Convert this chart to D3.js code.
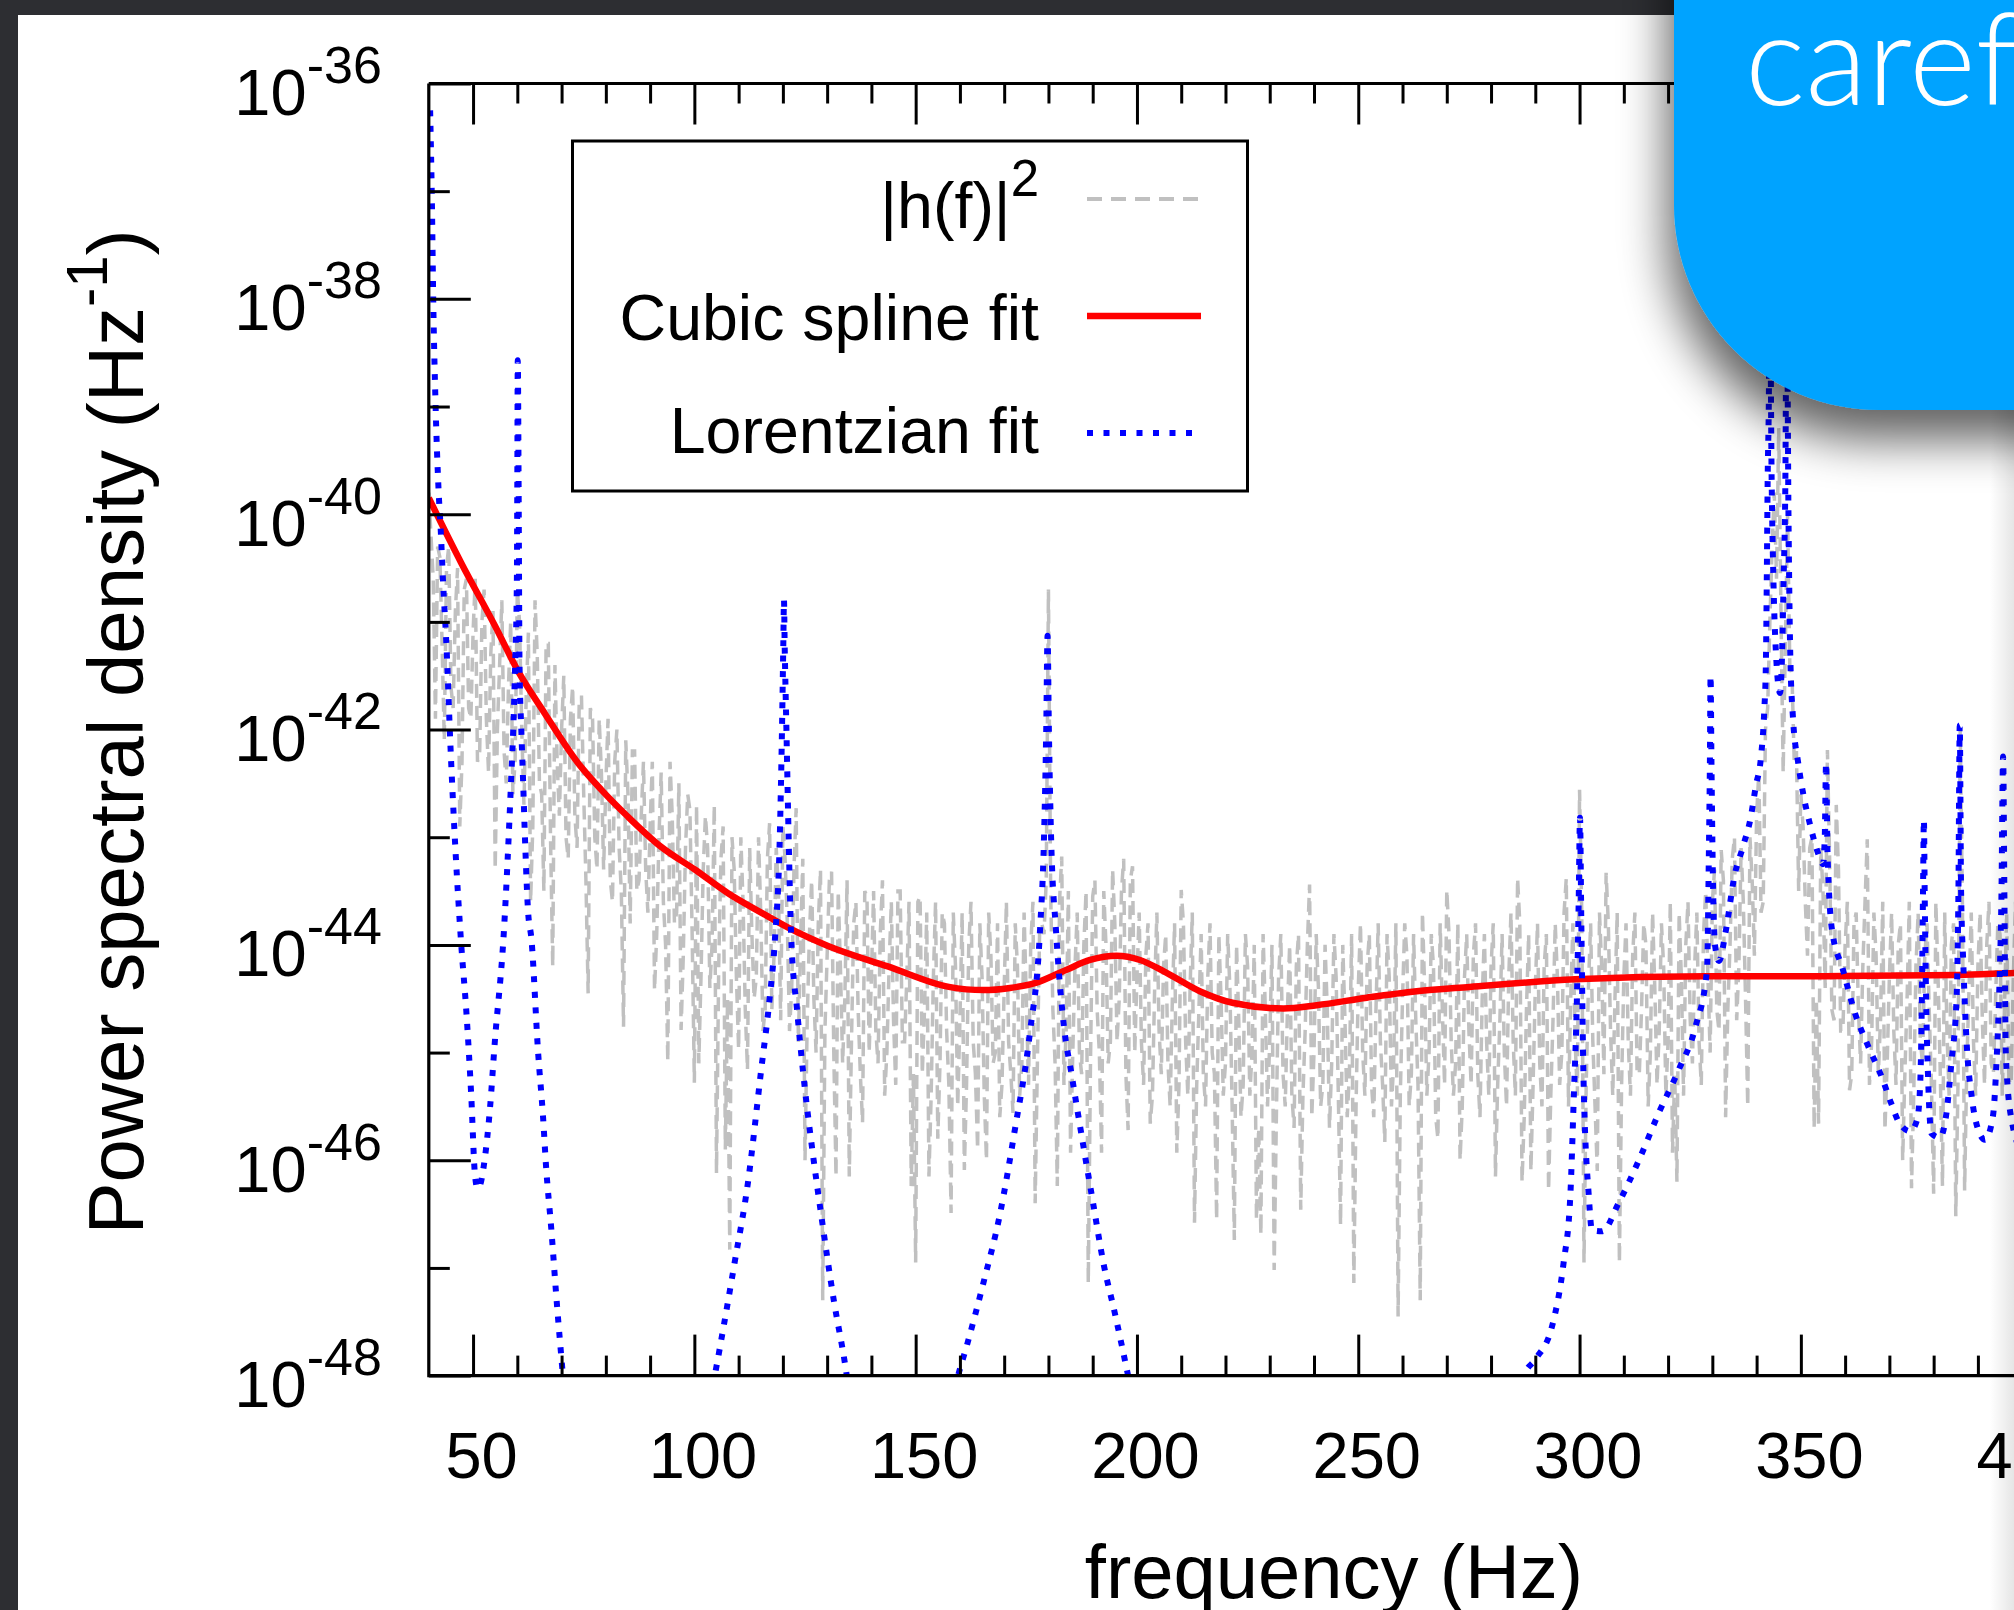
<!DOCTYPE html>
<html>
<head>
<meta charset="utf-8">
<script src="https://cdn.jsdelivr.net/npm/d3@7"></script>
<style>
html, body { margin: 0; padding: 0; background: #2d2e32; overflow: hidden; }
svg { display: block; }
</style>
</head>
<body>
<svg width="2014" height="1610"></svg>
<script>
// |h(f)|^2 samples, log10 of the value, on whole Hz from 40 Hz
var psdStart = 40;
var psdLog = [
  -39.8,-40.6,-40.3,-41.2,-40.5,-41.6,-40.9,-42.9,-40.7,-41.8,
  -41.1,-42.3,-41.0,-41.9,-41.3,-43.3,-41.4,-42.2,-41.6,-42.6,
  -40.7,-42.0,-41.7,-43.6,-40.8,-42.5,-43.5,-41.2,-44.2,-42.3,
  -42.0,-43.0,-41.9,-42.8,-41.7,-42.6,-44.45,-41.9,-43.3,-42.4,
  -42.5,-43.4,-42.3,-43.1,-44.76,-42.6,-42.2,-43.5,-42.8,-43.3,
  -42.9,-44.42,-43.0,-43.6,-45.08,-42.8,-43.7,-44.79,-43.1,-42.75,
  -45.28,-45.1,-43.3,-43.1,-44.0,-46.12,-43.2,-45.9,-46.83,-43.3,
  -44.97,-43.6,-45.16,-43.9,-44.3,-43.7,-44.6,-42.87,-44.1,-43.5,
  -42.9,-43.8,-44.4,-42.73,-44.0,-46.0,-43.9,-44.5,-43.8,-47.3,
  -44.1,-43.32,-46.15,-44.2,-44.5,-46.15,-43.8,-44.6,-45.65,-43.55,
  -44.3,-44.8,-43.9,-45.4,-44.2,-44.7,-43.5,-44.9,-44.3,-46.24,
  -46.95,-43.55,-44.6,-46.15,-44.3,-45.8,-43.7,-44.8,-46.49,-44.2,
  -44.7,-46.09,-44.0,-44.9,-45.9,-44.3,-46.0,-44.1,-45.0,-45.6,
  -44.4,-44.9,-45.56,-44.2,-45.1,-44.5,-44.0,-46.4,-43.9,-43.9,
  -40.7,-44.6,-46.24,-43.18,-44.8,-45.93,-44.2,-45.0,-44.0,-47.14,
  -43.55,-44.6,-45.93,-44.0,-44.9,-43.8,-44.5,-43.2,-45.72,-43.27,
  -44.3,-44.9,-44.1,-45.66,-44.4,-44.8,-44.2,-45.1,-44.5,-45.93,
  -43.49,-44.9,-44.4,-46.58,-44.6,-45.2,-44.3,-45.0,-46.55,-44.5,
  -45.1,-44.4,-46.74,-44.7,-45.3,-44.2,-45.0,-46.55,-46.69,-44.6,
  -44.9,-47.02,-44.3,-45.2,-44.6,-45.4,-44.2,-46.46,-44.8,-43.44,
  -45.0,-44.4,-45.3,-44.6,-45.1,-44.3,-46.6,-44.7,-45.2,-47.14,
  -44.4,-45.0,-44.2,-45.3,-44.6,-44.9,-45.83,-44.3,-45.1,-47.45,
  -44.5,-44.1,-45.2,-44.7,-47.3,-44.4,-45.0,-44.2,-45.8,-44.6,
  -43.49,-44.9,-45.1,-46.0,-44.3,-44.8,-44.1,-45.2,-44.5,-44.9,
  -44.2,-46.15,-44.7,-45.0,-44.3,-44.9,-43.38,-46.2,-44.6,-46.1,
  -44.4,-45.1,-44.2,-46.28,-44.7,-44.3,-45.0,-43.38,-44.5,-44.9,
  -42.56,-46.95,-44.4,-44.9,-46.1,-44.2,-43.33,-44.8,-44.5,-46.95,
  -44.3,-44.9,-44.1,-45.2,-44.6,-44.0,-45.0,-44.4,-44.8,-44.2,
  -44.9,-45.93,-46.2,-44.3,-44.0,-44.7,-44.2,-44.9,-43.9,-44.3,
  -43.6,-44.6,-43.12,-45.6,-44.0,-43.0,-44.2,-43.6,-45.5,-43.4,
  -42.8,-43.7,-42.0,-41.0,-39.8,-39.2,-42.4,-40.0,-41.5,-42.2,
  -42.6,-43.6,-43.1,-45.7,-45.66,-43.5,-42.19,-44.6,-42.7,-44.8,
  -44.0,-45.35,-43.8,-44.6,-44.2,-43.02,-44.9,-44.1,-44.7,-45.72,
  -44.3,-44.8,-44.0,-46.0,-44.5,-46.26,-44.2,-44.9,-44.1,-44.6,
  -46.31,-44.3,-46.24,-44.8,-44.0,-46.52,-42.0,-46.28,-44.4,-44.9,
  -44.2,-44.7,-44.0,-45.1,-44.5,-43.9,-44.6,-45.25,-44.3,-44.8,
  -44.1,-44.7,-44.3,-45.0,-44.4,-44.8,-44.2,-44.9,-44.5,-44.6,-44.3
];
// |h(f)|^2 samples on the half Hz, 40.5 .. 409.5 Hz
var psdLogMid = [
  -40.2,-41.9,-40.4,-42.1,-40.3,-41.8,-40.5,-42.3,-40.6,-41.9,
  -40.6,-42.2,-40.7,-42.4,-40.9,-42.0,-40.8,-42.5,-41.0,-42.3,
  -41.0,-42.7,-41.1,-42.9,-41.3,-42.6,-41.2,-43.0,-41.4,-42.8,
  -41.5,-43.2,-41.6,-43.1,-41.7,-43.4,-41.8,-43.0,-41.9,-43.3,
  -41.9,-43.6,-42.0,-43.5,-42.1,-43.8,-42.2,-43.4,-42.3,-43.7,
  -42.3,-43.9,-42.4,-44.0,-42.3,-43.8,-42.5,-44.1,-42.6,-43.9,
  -42.7,-44.3,-42.8,-44.4,-42.7,-44.2,-42.9,-44.5,-43.0,-44.3,
  -43.0,-44.6,-43.1,-44.5,-43.0,-44.8,-43.2,-44.6,-43.1,-44.7,
  -43.2,-44.8,-43.3,-44.9,-43.2,-44.7,-43.4,-45.0,-43.3,-44.8,
  -43.4,-45.0,-43.5,-45.1,-43.4,-44.9,-43.6,-45.2,-43.5,-45.0,
  -43.5,-45.1,-43.4,-45.0,-43.6,-45.3,-43.5,-44.9,-43.6,-45.2,
  -43.6,-45.2,-43.7,-45.4,-43.6,-45.1,-43.8,-45.3,-43.7,-45.5,
  -43.7,-45.3,-43.6,-45.2,-43.8,-45.4,-43.7,-45.1,-43.8,-45.3,
  -43.6,-45.2,-43.8,-45.4,-43.7,-45.3,-43.6,-45.1,-43.8,-43.4,
  -43.5,-45.1,-43.6,-45.3,-43.5,-45.0,-43.7,-45.2,-43.5,-45.1,
  -43.4,-45.0,-43.5,-45.1,-43.3,-44.9,-43.5,-45.2,-43.4,-45.0,
  -43.7,-45.3,-43.8,-45.4,-43.7,-45.2,-43.9,-45.5,-43.8,-45.3,
  -43.8,-45.4,-43.7,-45.3,-43.9,-45.5,-43.8,-45.2,-43.9,-45.4,
  -43.9,-45.5,-44.0,-45.6,-43.9,-45.4,-44.0,-45.7,-43.9,-45.5,
  -44.0,-45.6,-43.9,-45.5,-44.0,-45.7,-43.9,-45.4,-44.0,-45.6,
  -43.9,-45.5,-44.0,-45.7,-43.9,-45.4,-44.0,-45.6,-43.9,-45.5,
  -43.8,-45.4,-43.9,-45.6,-43.8,-45.3,-43.9,-45.5,-43.8,-45.4,
  -43.8,-45.5,-43.9,-45.3,-43.7,-45.4,-43.9,-45.6,-43.8,-45.3,
  -43.9,-45.4,-43.8,-45.5,-43.9,-45.3,-43.8,-45.6,-43.9,-45.4,
  -43.8,-45.3,-43.9,-45.5,-43.7,-45.4,-43.8,-45.6,-43.9,-45.3,
  -43.8,-45.5,-43.9,-45.4,-43.8,-45.3,-43.7,-45.5,-43.8,-45.4,
  -43.7,-45.3,-43.8,-45.5,-43.7,-45.2,-43.8,-45.4,-43.7,-45.3,
  -43.8,-45.4,-43.7,-45.2,-43.8,-45.5,-43.7,-45.3,-43.8,-45.4,
  -43.6,-45.2,-43.7,-45.4,-43.6,-45.1,-43.7,-45.3,-43.5,-45.0,
  -43.3,-44.8,-43.4,-44.6,-43.2,-44.7,-43.1,-44.5,-43.0,-44.1,
  -42.4,-43.6,-41.8,-40.3,-40.6,-40.9,-41.2,-41.4,-42.3,-43.5,
  -42.9,-44.1,-43.0,-44.5,-43.1,-44.4,-43.2,-44.7,-43.3,-44.8,
  -43.6,-45.2,-43.7,-45.1,-43.6,-45.3,-43.7,-45.2,-43.6,-45.1,
  -43.7,-45.3,-43.8,-45.2,-43.6,-45.4,-43.7,-45.1,-43.8,-45.3,
  -43.6,-45.2,-43.7,-45.4,-43.8,-45.3,-43.6,-45.1,-43.7,-45.4,
  -43.7,-45.3,-43.6,-45.2,-43.8,-45.4,-43.7,-45.3,-43.6,-45.2,
  -43.7,-45.3,-43.8,-45.2,-43.6,-45.4,-43.7,-45.1,-43.8,-45.3
];

// cubic spline fit (log10)
var splineFreq = [40,47.3,55,60.2,66.2,73.7,79,85,92.5,100.1,107.6,115.1,121.2,130.2,143.7,157.5,
  165.3,171.3,177.3,184.1,189.4,195.4,200.7,206.7,214.2,221.8,233.1,240.6,251.9,263.2,275.2,
  299,328.4,355.5,385.6,398.2,420];
var splineLog = [-39.85,-40.45,-41.04,-41.46,-41.85,-42.31,-42.56,-42.81,-43.09,-43.3,-43.52,-43.7,-43.84,-44.01,-44.2,-44.39,
  -44.42,-44.4,-44.35,-44.23,-44.14,-44.1,-44.14,-44.26,-44.43,-44.54,-44.59,-44.56,-44.49,-44.43,-44.39,
  -44.32,-44.29,-44.29,-44.28,-44.26,-44.24];

// Lorentzian fit (log10)
var lorentzFreq = [40.3,40.7,41,41.5,42.2,42.7,43.2,44,44.9,46,47.3,48.5,49.6,50.4,51,51.5,52.6,53.8,54.9,57,
  58.6,59.2,59.5,59.9,60,60.1,60.3,60.5,60.9,61.3,61.8,62.4,63.2,64.7,65.8,66.5,67.7,68.8,70.3,72,80,95,
  102,104.6,106.8,109.1,112.1,115.1,117,118.2,119.3,119.8,120.1,120.25,120.4,120.8,121.3,121.9,123.2,124.9,
  126.8,128.7,131.5,134,135.5,145,157,159.6,161.5,165.3,169.1,172.4,175.8,178.1,179,179.5,179.8,180.1,
  180.6,181.7,183.4,185.3,187.9,190.1,192.4,195,198,200,240,285,287.4,290,293.8,296.4,297.9,298.7,299.4,
  299.8,300.1,300.4,300.9,302.1,302.8,305.1,308.8,313.4,317.9,322.4,326.2,328.8,329.2,329.45,329.6,329.8,
  330.1,330.6,331.5,333,335,336.9,338.7,339.8,341,341.7,342.1,342.3,342.5,342.8,342.95,343.4,343.8,344.3,
  345.3,345.7,346.1,346.5,346.8,347.2,347.6,348.2,349.4,350.5,352,353.9,355,355.4,355.7,356,356.3,357,
  359.5,362.2,365.2,368.2,370.4,372.2,374.7,376.3,377,377.4,377.6,377.8,378,378.3,378.8,379.5,381.4,382.9,
  384,385.2,385.6,385.9,386.2,386.7,387.5,388.6,390.1,391.6,393.4,394.2,394.9,395.3,395.7,396,396.3,397.5,
  400,405];
var lorentzLog = [-36.25,-37.1,-38,-38.94,-39.77,-40.15,-40.61,-41.23,-42.16,-43.1,-43.98,-44.63,-45.41,-46.12,-46.26,-46.24,-46,-45.53,-44.91,-43.85,
  -42.47,-41.85,-41.41,-40.61,-39.68,-38.57,-39.8,-41.41,-42,-42.47,-43.09,-43.67,-43.95,-45,-45.59,-46.06,-46.65,-47.26,-48,-48.8,-50,-49.8,
  -48.5,-48,-47.5,-46.95,-46.21,-45.16,-44.5,-43.95,-43,-42,-41.2,-40.8,-41.2,-42,-43,-43.95,-44.6,-45.31,
  -45.95,-46.52,-47.3,-47.88,-48.3,-49.5,-48.5,-48,-47.73,-47.14,-46.49,-45.72,-44.82,-43.86,-43,-42,-41.13,-42,
  -43,-43.86,-44.72,-45.22,-45.87,-46.4,-46.95,-47.42,-48,-48.4,-50,-48.4,-48,-47.85,-47.54,-46.95,-46.34,-45.41,-44.5,
  -43.6,-42.82,-43.8,-45.25,-46.34,-46.65,-46.66,-46.4,-46,-45.56,-45.16,-44.76,-44.23,-43.2,-42.3,-41.5,-42.3,
  -43.3,-44,-44.15,-43.88,-43.36,-43.09,-42.81,-42.53,-42.25,-41.85,-41.38,-40.61,-39.68,-38.75,-37.6,-39.68,-40.61,-41.23,
  -41.66,-41.38,-40.61,-39.68,-37.8,-39.99,-41.29,-41.88,-42.31,-42.59,-42.87,-43.15,-43.25,-43,-42.31,-43.1,-43.45,-43.85,
  -44.23,-44.63,-44.94,-45.22,-45.47,-45.65,-45.73,-45.62,-45.25,-44.3,-43.5,-42.84,-43.6,-44.5,-45.3,-45.75,-45.79,-45.56,
  -45.1,-44.48,-43.5,-41.96,-43.5,-44.17,-44.94,-45.41,-45.72,-45.81,-45.59,-45.09,-44.32,-43.6,-42.25,-43.6,-45,-45.6,
  -45.9,-45.5];

var xMajorTicks = [50,100,150,200,250,300,350,400,450];
var xMinorTicks = [60,70,80,90,110,120,130,140,160,170,180,190,210,220,230,240,260,270,280,290,
  310,320,330,340,360,370,380,390,410,420,430,440];
var yMajorExps = [-36,-38,-40,-42,-44,-46,-48];
var yMinorExps = [-37,-39,-41,-43,-45,-47];
var legendLabels = ["|h(f)|", "Cubic spline fit", "Lorentzian fit"];
var xTitle = "frequency (Hz)";
var yTitle = "Power spectral density (Hz";
var bannerText = "careful";

var font = "'Liberation Sans', Arial, Helvetica, sans-serif";
var plotLeft = 428.8, plotTop = 83.5, plotBottom = 1375.6;

var x = d3.scaleLinear().domain([40, 450]).range([plotLeft, plotLeft + 410 * 4.426]);
var y = d3.scaleLog().domain([1e-48, 1e-36]).range([plotBottom, plotTop]);

var svg = d3.select("svg");
var defs = svg.append("defs");

defs.append("clipPath").attr("id", "plotclip")
  .append("rect").attr("x", plotLeft).attr("y", plotTop)
  .attr("width", 2100).attr("height", plotBottom - plotTop);

var shadow = defs.append("filter").attr("id", "shadow")
  .attr("x", "-40%").attr("y", "-40%").attr("width", "180%").attr("height", "180%");
shadow.append("feGaussianBlur").attr("in", "SourceAlpha").attr("stdDeviation", 24);
shadow.append("feOffset").attr("dx", -6).attr("dy", 30).attr("result", "off");
shadow.append("feComponentTransfer").append("feFuncA").attr("type", "linear").attr("slope", 0.62);
var merge = shadow.append("feMerge");
merge.append("feMergeNode");
merge.append("feMergeNode").attr("in", "SourceGraphic");

var edge = defs.append("linearGradient").attr("id", "edge");
edge.append("stop").attr("offset", "0").attr("stop-color", "#000").attr("stop-opacity", 0);
edge.append("stop").attr("offset", "1").attr("stop-color", "#000").attr("stop-opacity", 0.1);

// slide
svg.append("rect").attr("x", 18).attr("y", 15).attr("width", 2100).attr("height", 1700).attr("fill", "#fff");

var plot = svg.append("g").attr("clip-path", "url(#plotclip)");

// whole-Hz and half-Hz samples, in frequency order
var psdPoints = [];
psdLog.forEach(function(v, i) {
  psdPoints.push([psdStart + i, Math.pow(10, v)]);
  if (i < psdLogMid.length) psdPoints.push([psdStart + i + 0.5, Math.pow(10, psdLogMid[i])]);
});
var splinePoints = splineFreq.map(function(f, i) { return [f, Math.pow(10, splineLog[i])]; });
var lorentzPoints = lorentzFreq.map(function(f, i) { return [f, Math.pow(10, lorentzLog[i])]; });

var line = d3.line().x(function(d) { return x(d[0]); }).y(function(d) { return y(d[1]); });
var smooth = d3.line().x(function(d) { return x(d[0]); }).y(function(d) { return y(d[1]); })
  .curve(d3.curveMonotoneX);

plot.append("path").attr("d", line(psdPoints))
  .attr("fill", "none").attr("stroke", "#c0c0c0").attr("stroke-width", 3.5)
  .attr("stroke-dasharray", "14,8");
plot.append("path").attr("d", smooth(splinePoints))
  .attr("fill", "none").attr("stroke", "#ff0000").attr("stroke-width", 6.5);
plot.append("path").attr("d", smooth(lorentzPoints))
  .attr("fill", "none").attr("stroke", "#0000ff").attr("stroke-width", 6)
  .attr("stroke-dasharray", "6,9.5");

// axes
function styleAxis(g) {
  g.select(".domain").remove();
  g.selectAll(".tick line").attr("stroke", "#000").attr("stroke-width", 3);
}

var xBottom = svg.append("g").attr("transform", "translate(0," + plotBottom + ")")
  .call(d3.axisBottom(x).tickValues(xMajorTicks).tickSize(-41).tickPadding(56).tickFormat(d3.format("d")))
  .call(styleAxis);
xBottom.selectAll(".tick text").attr("x", 8).attr("font-family", font).attr("font-size", 65).attr("fill", "#000");
svg.append("g").attr("transform", "translate(0," + plotBottom + ")")
  .call(d3.axisBottom(x).tickValues(xMinorTicks).tickSize(-20).tickFormat(""))
  .call(styleAxis);
svg.append("g").attr("transform", "translate(0," + plotTop + ")")
  .call(d3.axisTop(x).tickValues(xMajorTicks).tickSize(-41).tickFormat(""))
  .call(styleAxis);
svg.append("g").attr("transform", "translate(0," + plotTop + ")")
  .call(d3.axisTop(x).tickValues(xMinorTicks).tickSize(-20).tickFormat(""))
  .call(styleAxis);

var yMajor = svg.append("g").attr("transform", "translate(" + plotLeft + ",0)")
  .call(d3.axisLeft(y).tickValues(yMajorExps.map(function(e) { return Math.pow(10, e); }))
    .tickSize(-42).tickFormat(""))
  .call(styleAxis);
svg.append("g").attr("transform", "translate(" + plotLeft + ",0)")
  .call(d3.axisLeft(y).tickValues(yMinorExps.map(function(e) { return Math.pow(10, e); }))
    .tickSize(-21).tickFormat(""))
  .call(styleAxis);

yMajor.selectAll(".tick").each(function(d, i) {
  var t = d3.select(this).append("text")
    .attr("x", -47).attr("y", 31).attr("text-anchor", "end")
    .attr("font-family", font).attr("font-size", 65).attr("fill", "#000");
  t.append("tspan").text("10");
  t.append("tspan").attr("dy", -32).attr("font-size", 52).text(String(yMajorExps[i]));
});

// frame
svg.append("path").attr("d", "M" + plotLeft + "," + plotTop + "V" + plotBottom + "H2100M" + plotLeft + "," + plotTop + "H2100")
  .attr("fill", "none").attr("stroke", "#000").attr("stroke-width", 3.2);

// axis titles
svg.append("text").attr("x", 1334).attr("y", 1598).attr("text-anchor", "middle")
  .attr("font-family", font).attr("font-size", 76).attr("fill", "#000").text(xTitle);

var yt = svg.append("text").attr("transform", "translate(143,732) rotate(-90)")
  .attr("text-anchor", "middle").attr("font-family", font).attr("font-size", 78).attr("fill", "#000");
yt.append("tspan").text(yTitle);
yt.append("tspan").attr("dy", -36).attr("font-size", 58).text("-1");
yt.append("tspan").attr("dy", 36).text(")");

// legend
var legend = svg.append("g");
legend.append("rect").attr("x", 572.5).attr("y", 141).attr("width", 675).attr("height", 350)
  .attr("fill", "#fff").attr("stroke", "#000").attr("stroke-width", 3);

var rows = [
  { base: 228, sample: 199, stroke: "#c0c0c0", width: 4, dash: "15,9" },
  { base: 340, sample: 316, stroke: "#ff0000", width: 6.5, dash: null },
  { base: 453, sample: 433, stroke: "#0000ff", width: 6, dash: "6,10.5" }
];
rows.forEach(function(r, i) {
  var t = legend.append("text").attr("x", 1039).attr("y", r.base).attr("text-anchor", "end")
    .attr("font-family", font).attr("font-size", 64.5).attr("fill", "#000");
  t.append("tspan").text(legendLabels[i]);
  if (i === 0) t.append("tspan").attr("dy", -32).attr("font-size", 51).text("2");
  legend.append("line").attr("x1", 1087).attr("x2", 1201).attr("y1", r.sample).attr("y2", r.sample)
    .attr("stroke", r.stroke).attr("stroke-width", r.width)
    .attr("stroke-dasharray", r.dash);
});

// right edge shade
svg.append("rect").attr("x", 1990).attr("y", 400).attr("width", 24).attr("height", 1210).attr("fill", "url(#edge)");

// banner
var banner = svg.append("g");
banner.append("rect").attr("x", 1674).attr("y", -400).attr("width", 700).attr("height", 810)
  .attr("rx", 205).attr("ry", 205).attr("fill", "#00a3ff").attr("filter", "url(#shadow)");
banner.append("text").attr("x", 1745).attr("y", 105)
  .attr("font-family", "Lato, 'Open Sans', sans-serif").attr("font-weight", 300)
  .attr("font-size", 128).attr("fill", "#fff").text(bannerText);
</script>
</body>
</html>
